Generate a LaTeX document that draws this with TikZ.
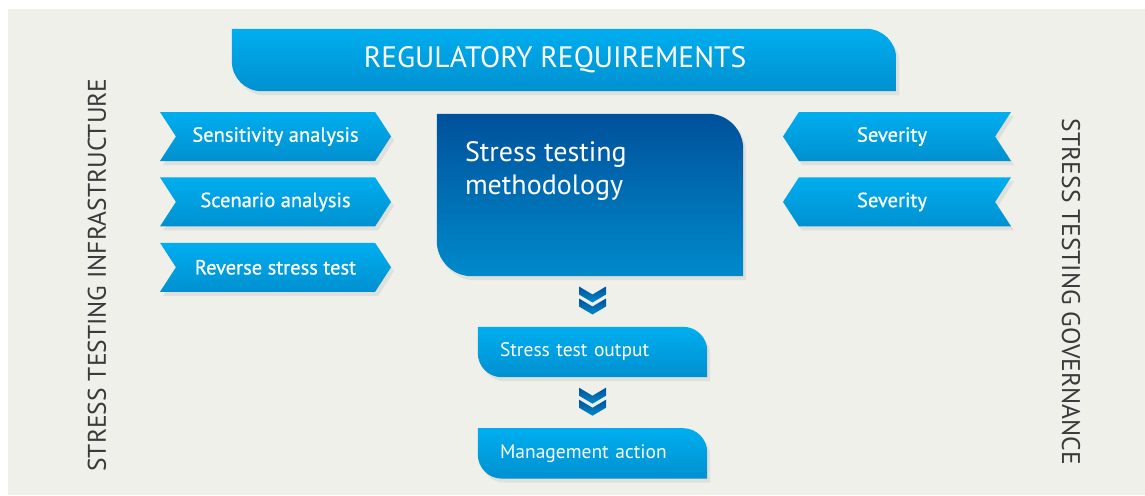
\documentclass[tikz,border=0pt]{standalone}
\usepackage{fontspec}
\setmainfont{PT Sans}
\newfontfamily\tagfont{PT Sans}[FakeBold=0.7]
\usetikzlibrary{positioning, calc, shapes.symbols, shadows, backgrounds}
\definecolor{skyblue}{HTML}{00AEEF}
\definecolor{skyblue2}{HTML}{0090D0}
\definecolor{deepblue}{HTML}{00519B}
\definecolor{deepblue2}{HTML}{008ACB}
\definecolor{canvas}{HTML}{F0F0EB}
\definecolor{inkgrey}{HTML}{3A3A3A}
\tikzset{
    softshadow/.style={drop shadow={shadow xshift=3pt, shadow yshift=-4pt, opacity=0.15}},
    tag/.style={shape=signal, signal pointer angle=114, minimum height=49pt,
        inner sep=0pt, top color=skyblue, bottom color=skyblue2, text=white,
        font=\tagfont\fontsize{20.5}{22}\selectfont, softshadow},
    tagin/.style={tag, signal from=west, signal to=east, minimum width=231pt},
    tagout/.style={tag, signal from=east, signal to=west, minimum width=228pt},
    leafbox/.style={inner xsep=22pt, inner ysep=0pt, minimum height=50pt,
        text width=185pt, align=left, text=white, font=\fontsize{19.5}{22}\selectfont},
    sidelabel/.style={text=inkgrey, font=\fontsize{25.5}{28}\selectfont},
}

\begin{document}
\begin{tikzpicture}[x=1pt, y=1pt]
\useasboundingbox (0,0) rectangle (1145,-495);

% banner and centre box
\node (reg) [minimum width=664pt, minimum height=62pt, inner sep=0pt, text=white,
    font=\fontsize{29.5}{32}\selectfont] at (564,-60) {REGULATORY REQUIREMENTS\kern18pt};
\node (method) [minimum width=306pt, minimum height=162pt, inner sep=0pt] at (590,-195) {};
\node (methodtext) [anchor=north west, align=left, inner sep=0pt, text=white,
    font=\fontsize{28}{33}\selectfont] at ([xshift=28pt, yshift=-28pt]method.north west)
    {Stress testing\\methodology};

% left tags
\node (sens) [tagin] at (275.5,-136.5) {Sensitivity analysis};
\node (scen) [tagin, below=16pt of sens] {Scenario analysis};
\node (rev) [tagin, below=16pt of scen] {Reverse stress test};

% right tags
\node (sev1) [tagout] at (897,-136.5) {Severity\kern10pt};
\node (sev2) [tagout, below=16pt of sev1] {Severity\kern10pt};

% output chain
\node (output) [leafbox] at (592.5,-352) {Stress test output};
\node (action) [leafbox, below=51pt of output] {Management action};

% side labels
\node (infra) [sidelabel, rotate=90] at (97,-275) {STRESS TESTING INFRASTRUCTURE};
\node (gov) [sidelabel, rotate=-90] at (1071,-292) {STRESS TESTING GOVERNANCE};

\begin{scope}[on background layer]
\fill[canvas] (8,-9) rectangle (1145,-495);
\foreach \n/\r in {reg/30, output/24, action/24} {
    \shade[top color=skyblue, bottom color=skyblue2, softshadow]
        (\n.north west) -- ([xshift=-\r pt]\n.north east)
        arc[start angle=90, end angle=0, radius=\r pt] -- (\n.south east)
        -- ([xshift=\r pt]\n.south west)
        arc[start angle=270, end angle=180, radius=\r pt] -- cycle;
}
\shade[top color=deepblue, bottom color=deepblue2, softshadow]
    (method.north west) -- ([xshift=-35pt]method.north east)
    arc[start angle=90, end angle=0, radius=35pt] -- (method.south east)
    -- ([xshift=35pt]method.south west)
    arc[start angle=270, end angle=180, radius=35pt] -- cycle;
\end{scope}

% double chevrons
\foreach \a/\b in {method/output, output/action} {
    \coordinate (c) at ($(\b.north)!0.5!(\b.north |- \a.south)$);
    \begin{scope}[shift={(c)}]
    \shade[top color=deepblue, bottom color=deepblue2]
        (-13.5,15) -- (0,7) -- (13.5,15) -- (13.5,7) -- (0,-1) -- (-13.5,7) -- cycle;
    \shade[top color=deepblue, bottom color=deepblue2]
        (-13.5,3) -- (0,-5) -- (13.5,3) -- (13.5,-5) -- (0,-13) -- (-13.5,-5) -- cycle;
    \end{scope}
}
\end{tikzpicture}
\end{document}
